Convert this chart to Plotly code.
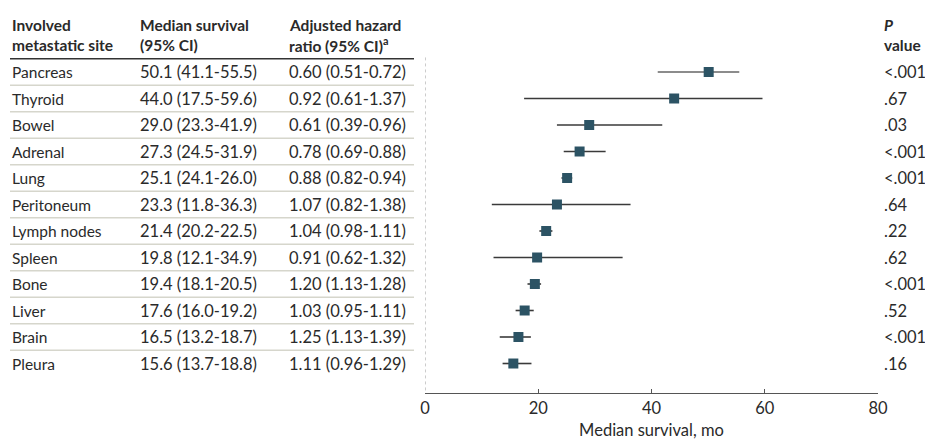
import plotly.graph_objects as go

sites = ["Pancreas", "Thyroid", "Bowel", "Adrenal", "Lung", "Peritoneum",
         "Lymph nodes", "Spleen", "Bone", "Liver", "Brain", "Pleura"]
median = [50.1, 44.0, 29.0, 27.3, 25.1, 23.3, 21.4, 19.8, 19.4, 17.6, 16.5, 15.6]
ci_low = [41.1, 17.5, 23.3, 24.5, 24.1, 11.8, 20.2, 12.1, 18.1, 16.0, 13.2, 13.7]
ci_high = [55.5, 59.6, 41.9, 31.9, 26.0, 36.3, 22.5, 34.9, 20.5, 19.2, 18.7, 18.8]
hr_text = ["0.60 (0.51-0.72)", "0.92 (0.61-1.37)", "0.61 (0.39-0.96)", "0.78 (0.69-0.88)",
           "0.88 (0.82-0.94)", "1.07 (0.82-1.38)", "1.04 (0.98-1.11)", "0.91 (0.62-1.32)",
           "1.20 (1.13-1.28)", "1.03 (0.95-1.11)", "1.25 (1.13-1.39)", "1.11 (0.96-1.29)"]
p_text = ["<.001", ".67", ".03", "<.001", "<.001", ".64", ".22", ".62", "<.001", ".52", "<.001", ".16"]
x_ticks = [0, 20, 40, 60, 80]

FONT = "Lato"
FS = 15.5
FSN = 16.5
TXT = "#2a2a2a"
SQ = "#2c5364"

rows = list(range(len(sites)))
err_plus = [h - m for h, m in zip(ci_high, median)]
err_minus = [m - l for m, l in zip(median, ci_low)]

fig = go.Figure()
fig.add_trace(go.Scatter(
    x=median[:1], y=rows[:1], mode="markers",
    marker=dict(symbol="square", size=10, color=SQ, line=dict(width=0)),
    error_x=dict(type="data", symmetric=False, array=err_plus[:1], arrayminus=err_minus[:1],
                 color="#8c8c8c", thickness=2, width=0),
    hoverinfo="skip", showlegend=False))
fig.add_trace(go.Scatter(
    x=median[1:], y=rows[1:], mode="markers",
    marker=dict(symbol="square", size=10, color=SQ, line=dict(width=0)),
    error_x=dict(type="data", symmetric=False, array=err_plus[1:], arrayminus=err_minus[1:],
                 color="#3a3a3a", thickness=1.6, width=0),
    hoverinfo="skip", showlegend=False))

W = 925.0
ann = []
col_site, col_med, col_hr, col_p = 10 / W, 138 / W, 287 / W, 882 / W
for i, s in enumerate(sites):
    for xx, t, fs in ((col_site, s, FS),
                      (col_med, f"{median[i]:.1f} ({ci_low[i]:.1f}-{ci_high[i]:.1f})", FSN),
                      (col_hr, hr_text[i], FSN), (col_p, p_text[i], FSN)):
        ann.append(dict(x=xx, y=i, xref="paper", yref="y", text=t, showarrow=False,
                        xanchor="left", yanchor="middle", font=dict(family=FONT, size=fs, color=TXT)))

hdr = [(col_site, "Involved", "metastatic site"),
       (col_med, "Median survival", "(95% CI)"),
       (col_hr, "Adjusted hazard", "ratio (95% CI)<sup>a</sup>"),
       (col_p, "<i>P</i>", "value")]
for xx, l1, l2 in hdr:
    for yy, t in ((-1.78, l1), (-1.02, l2)):
        ann.append(dict(x=xx, y=yy, xref="paper", yref="y", text=f"<b>{t}</b>", showarrow=False,
                        xanchor="left", yanchor="middle", font=dict(family=FONT, size=FS, color=TXT)))

shapes = []
shapes.append(dict(type="line", xref="paper", yref="y", x0=10 / W, x1=414 / W, y0=-0.5, y1=-0.5,
                   line=dict(color="#333333", width=1.5)))
for i in range(len(sites) - 1):
    shapes.append(dict(type="line", xref="paper", yref="y", x0=10 / W, x1=414 / W,
                       y0=i + 0.5, y1=i + 0.5, line=dict(color="#d6d6cc", width=1.5)))
shapes.append(dict(type="line", xref="x", yref="y", x0=0, x1=0, y0=-0.55, y1=12.113,
                   line=dict(color="#9a9a9a", width=1, dash="dot")))

fig.update_layout(
    width=925, height=440,
    margin=dict(l=0, r=0, t=0, b=0, autoexpand=False),
    paper_bgcolor="white", plot_bgcolor="white",
    annotations=ann, shapes=shapes,
    xaxis=dict(domain=[425 / W, 878 / W], range=[0, 80], tickvals=x_ticks,
               showgrid=False, zeroline=False, showline=True, linecolor="#555555", linewidth=1.2,
               ticks="inside", ticklen=4, tickcolor="#555555",
               tickfont=dict(family=FONT, size=FSN, color=TXT),
               title=dict(text="Median survival, mo", font=dict(family=FONT, size=FSN, color=TXT), standoff=8)),
    yaxis=dict(domain=[(440 - 393) / 440, 1], range=[12.113, -2.717], visible=False),
    font=dict(family=FONT),
)

fig.write_html("out.html", config={"displayModeBar": False},
               post_script="document.body.style.margin='0';document.body.style.overflow='hidden';")
